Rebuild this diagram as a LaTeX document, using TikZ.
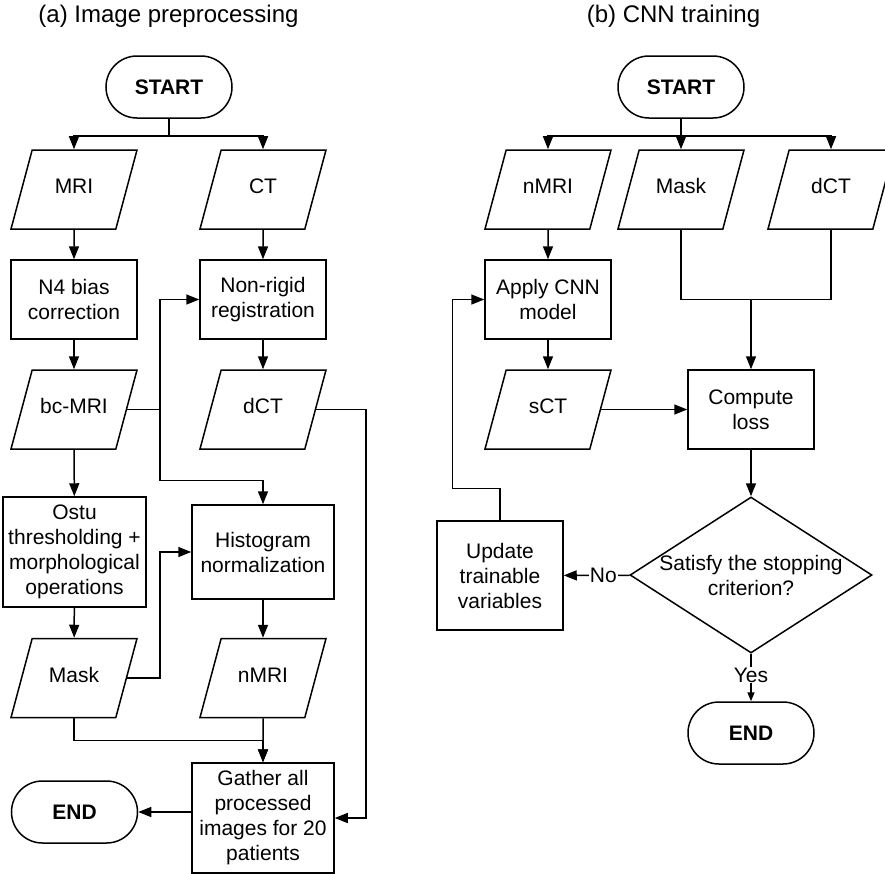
\documentclass[tikz,border=0pt]{standalone}
\usepackage{fontspec}
\setmainfont{Liberation Sans}
\usetikzlibrary{shapes.geometric,shapes.misc,arrows.meta}
\tikzset
{
    startstop/.style = {rounded rectangle, draw=black, minimum width=63pt, minimum height=31pt, inner sep=0pt, font=\fontsize{10.5}{12.5}\selectfont\bfseries},
    iodata/.style    = {trapezium, trapezium left angle=75, trapezium right angle=105, trapezium stretches body=true, draw=black, minimum width=63pt, minimum height=39.5pt, inner xsep=0pt, inner ysep=15.9pt, text height=6pt, text depth=1.7pt, align=center},
    process/.style   = {rectangle, draw=black, minimum width=63pt, minimum height=39.5pt, inner sep=0pt, align=center},
    decision/.style  = {diamond, draw=black, minimum width=121pt, minimum height=78pt, inner sep=0pt},
    arrow/.style     = {-{Triangle[length=6.5pt, width=5pt]}},
    paneltitle/.style = {anchor=base, font=\fontsize{12}{14}\selectfont},
    yesno/.style     = {fill=white, inner sep=0.5pt}
}

\begin{document}
\begin{tikzpicture}[x=0.5pt, y=0.5pt, line width=0.75pt, font=\fontsize{10.5}{12.5}\selectfont]

	 \newcommand\COLDX{189}
	 \newcommand\ROWDY{110}

	 \useasboundingbox (0,0) rectangle (885,-874);

	 % (a) image preprocessing
	 \node (ta)       [paneltitle]  at (168.5,-22)                       {(a) Image preprocessing};
	 \node (starta)   [startstop]   at (169,-87)                         {START};
	 \node (mria)     [iodata]      at (74,-189.5)                       {MRI};
	 \node (cta)      [iodata]      at ([shift=({\COLDX,0})]mria)        {CT};
	 \node (n4)       [process]     at ([shift=({0,-\ROWDY})]mria)       {N4 bias\\correction};
	 \node (nonrigid) [process]     at ([shift=({\COLDX,0})]n4)          {Non-rigid\\registration};
	 \node (bcmri)    [iodata]      at ([shift=({0,-\ROWDY})]n4)         {bc-MRI};
	 \node (dcta)     [iodata]      at ([shift=({\COLDX,0})]bcmri)       {dCT};
	 \node (ostu)     [process, minimum width=71.5pt, minimum height=55pt] at (74.5,-552) {Ostu\\thresholding +\\morphological\\operations};
	 \node (hist)     [process, minimum width=71pt, minimum height=47pt]   at (263,-552)  {Histogram\\normalization};
	 \node (maska)    [iodata]      at (74,-678)                         {Mask};
	 \node (nmria)    [iodata]      at ([shift=({\COLDX,0})]maska)       {nMRI};
	 \node (gather)   [process, minimum width=71pt, minimum height=55pt]   at (263,-818)  {Gather all\\processed\\images for 20\\patients};
	 \node (enda)     [startstop]   at (74.5,-812)                       {END};

	 \coordinate (jb) at ([shift=({33,0})]bcmri.east);

	 \draw[arrow] (starta.south) -- ++(0,-17) -| (mria.north);
	 \draw[arrow] (starta.south) -- ++(0,-17) -| (cta.north);
	 \draw[arrow] (mria) -- (n4);
	 \draw[arrow] (n4) -- (bcmri);
	 \draw[arrow] (cta) -- (nonrigid);
	 \draw[arrow] (nonrigid) -- (dcta);
	 \draw[arrow] (bcmri) -- (ostu);
	 \draw[arrow] (ostu) -- (maska);
	 \draw[arrow] (hist) -- (nmria);
	 \draw[arrow] (nmria) -- (gather);
	 \draw[arrow] (bcmri.east) -- (jb) |- (nonrigid.west);
	 \draw[arrow] (jb) |- ([shift=({0,24})]hist.north) -- (hist.north);
	 \draw[arrow] (maska.east) -- ++(33,0) |- (hist.west);
	 \draw[arrow] (maska.south) |- ([shift=({0,22})]gather.north) -- (gather.north);
	 \draw[arrow] (dcta.east) -- ++(50,0) |- (gather.east);
	 \draw[arrow] (gather.west |- enda.east) -- (enda.east);

	 % (b) CNN training
	 \node (tb)       [paneltitle]  at (673.5,-22)                       {(b) CNN training};
	 \node (startb)   [startstop]   at (681,-87)                         {START};
	 \node (nmrib)    [iodata]      at (548,-189.5)                      {nMRI};
	 \node (maskb)    [iodata]      at ([shift=({133,0})]nmrib)          {Mask};
	 \node (dctb)     [iodata]      at ([shift=({283,0})]nmrib)          {dCT};
	 \node (apply)    [process]     at ([shift=({0,-\ROWDY})]nmrib)      {Apply CNN\\model};
	 \node (sct)      [iodata]      at ([shift=({0,-\ROWDY})]apply)      {sCT};
	 \node (compute)  [process]     at (751,-409.5)                      {Compute\\loss};
	 \node (decide)   [decision, label={[align=center]center:Satisfy the stopping\\criterion?}] at (751,-575) {};
	 \node (update)   [process, minimum height=54.5pt] at (500,-575.5)  {Update\\trainable\\variables};
	 \node (endb)     [startstop]   at (751,-733)                        {END};

	 \coordinate (jc) at (compute.north |- apply);

	 \draw[arrow] (startb.south) -- ++(0,-17) -| (nmrib.north);
	 \draw[arrow] (startb.south) -- ++(0,-17) -| (dctb.north);
	 \draw[arrow] (startb) -- (maskb);
	 \draw[arrow] (nmrib) -- (apply);
	 \draw[arrow] (apply) -- (sct);
	 \draw (maskb.south) |- (jc) -| (dctb.south);
	 \draw[arrow] (jc) -- (compute);
	 \draw[arrow] (sct.east) -- (compute.west);
	 \draw[arrow] (compute) -- (decide);
	 \draw[arrow] (decide) -- node[yesno, pos=0.4] {No} (update);
	 \draw[-{Triangle[length=4.5pt, width=3.5pt]}] (decide) -- node[yesno, pos=0.45] {Yes} (endb);
	 \draw[arrow] (update.north) -- ++(0,32) -| ([shift=({-32,0})]apply.west) -- (apply.west);
\end{tikzpicture}
\end{document}
